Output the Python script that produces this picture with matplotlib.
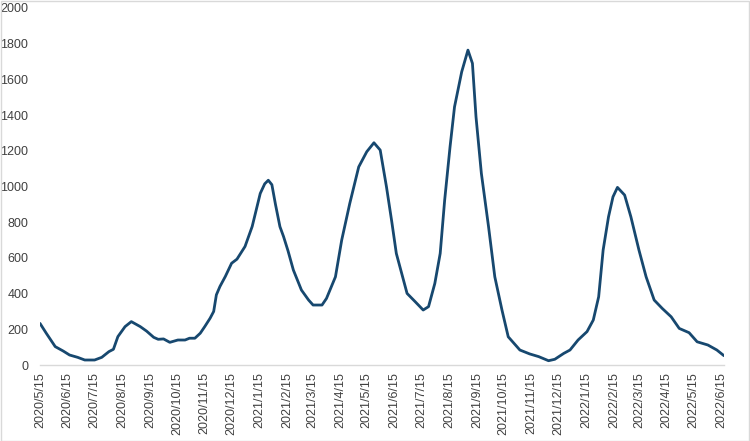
import matplotlib
matplotlib.use("Agg")
import matplotlib.pyplot as plt
import pandas as pd
from matplotlib.patches import Rectangle

plt.rcParams['font.family'] = ['Liberation Sans', 'DejaVu Sans']

dates = [
    "2020-05-15", "2020-05-22", "2020-06-01", "2020-06-10", "2020-06-17", "2020-06-26",
    "2020-07-04", "2020-07-15", "2020-07-23", "2020-07-31", "2020-08-05", "2020-08-10",
    "2020-08-18", "2020-08-25", "2020-09-04", "2020-09-11", "2020-09-19", "2020-09-24",
    "2020-09-30", "2020-10-07", "2020-10-16", "2020-10-24", "2020-10-29", "2020-11-04",
    "2020-11-10", "2020-11-15", "2020-11-21", "2020-11-25", "2020-11-28", "2020-12-02",
    "2020-12-08", "2020-12-15", "2020-12-21", "2020-12-30", "2021-01-07", "2021-01-16",
    "2021-01-21", "2021-01-25", "2021-01-29", "2021-02-02", "2021-02-07", "2021-02-11",
    "2021-02-16", "2021-02-22", "2021-03-03", "2021-03-11", "2021-03-16", "2021-03-26",
    "2021-03-31", "2021-04-10", "2021-04-17", "2021-04-26", "2021-05-06", "2021-05-15",
    "2021-05-23", "2021-05-30", "2021-06-06", "2021-06-12", "2021-06-17", "2021-06-29",
    "2021-07-08", "2021-07-17", "2021-07-23", "2021-07-30", "2021-08-05", "2021-08-10",
    "2021-08-16", "2021-08-21", "2021-08-29", "2021-09-05", "2021-09-10", "2021-09-14",
    "2021-09-20", "2021-09-28", "2021-10-05", "2021-10-13", "2021-10-20", "2021-11-02",
    "2021-11-13", "2021-11-23", "2021-12-04", "2021-12-11", "2021-12-21", "2021-12-28",
    "2022-01-06", "2022-01-16", "2022-01-23", "2022-01-29", "2022-02-03", "2022-02-09",
    "2022-02-14", "2022-02-19", "2022-02-27", "2022-03-06", "2022-03-15", "2022-03-23",
    "2022-04-01", "2022-04-10", "2022-04-20", "2022-04-29", "2022-05-10", "2022-05-19",
    "2022-05-31", "2022-06-10", "2022-06-18",
]
values = [
    233, 178, 103, 78, 56, 43,
    28, 28, 43, 75, 88, 159,
    215, 243, 215, 190, 155, 144,
    146, 127, 140, 140, 150, 150,
    178, 215, 262, 300, 393, 440,
    496, 570, 593, 664, 776, 961,
    1015, 1035, 1010, 900, 775, 720,
    640, 532, 420, 364, 336, 336,
    373, 494, 700, 905, 1110, 1195,
    1245, 1204, 998, 800, 625, 401,
    355, 308, 327, 457, 625, 924,
    1222, 1446, 1642, 1764, 1690, 1390,
    1073, 775, 494, 308, 158, 84,
    62, 47, 24, 32, 65, 84,
    140, 187, 252, 382, 644, 830,
    942, 995, 952, 830, 644, 494,
    364, 317, 270, 205, 181, 130,
    112, 84, 52,
]
tick_dates = pd.date_range("2020-05-01", "2022-06-01", freq="MS") + pd.Timedelta(days=14)
tick_labels = [f"{d.year}/{d.month}/{d.day}" for d in tick_dates]

x = pd.to_datetime(dates)

fig = plt.figure(figsize=(7.5, 4.41), dpi=100)
ax = fig.add_axes([40/750, 1-365/441, (724-40)/750, (365-8)/441])
ax.plot(x, values, color="#17486f", lw=2.0, solid_joinstyle="round", solid_capstyle="round")

ax.set_xlim(pd.Timestamp("2020-05-15"), pd.Timestamp("2022-06-18"))
ax.set_ylim(0, 2000)
ax.set_yticks(range(0, 2001, 200))
ax.set_xticks(tick_dates)
ax.set_xticklabels(tick_labels, rotation=90)
ax.tick_params(axis="both", length=0, labelsize=9, colors="#404040")
ax.tick_params(axis="x", pad=5)
ax.tick_params(axis="y", pad=8.5)
for s in ["top", "right", "left"]:
    ax.spines[s].set_visible(False)
ax.spines["bottom"].set_color("#d9d9d9")
ax.spines["bottom"].set_linewidth(1.0)
ax.patch.set_alpha(0)

fig.patches.append(Rectangle((0.001, 0.001), 0.997, 0.997, transform=fig.transFigure,
                             fill=False, edgecolor="#d9d9d9", lw=1.0))

fig.savefig("out.png", dpi=100)
